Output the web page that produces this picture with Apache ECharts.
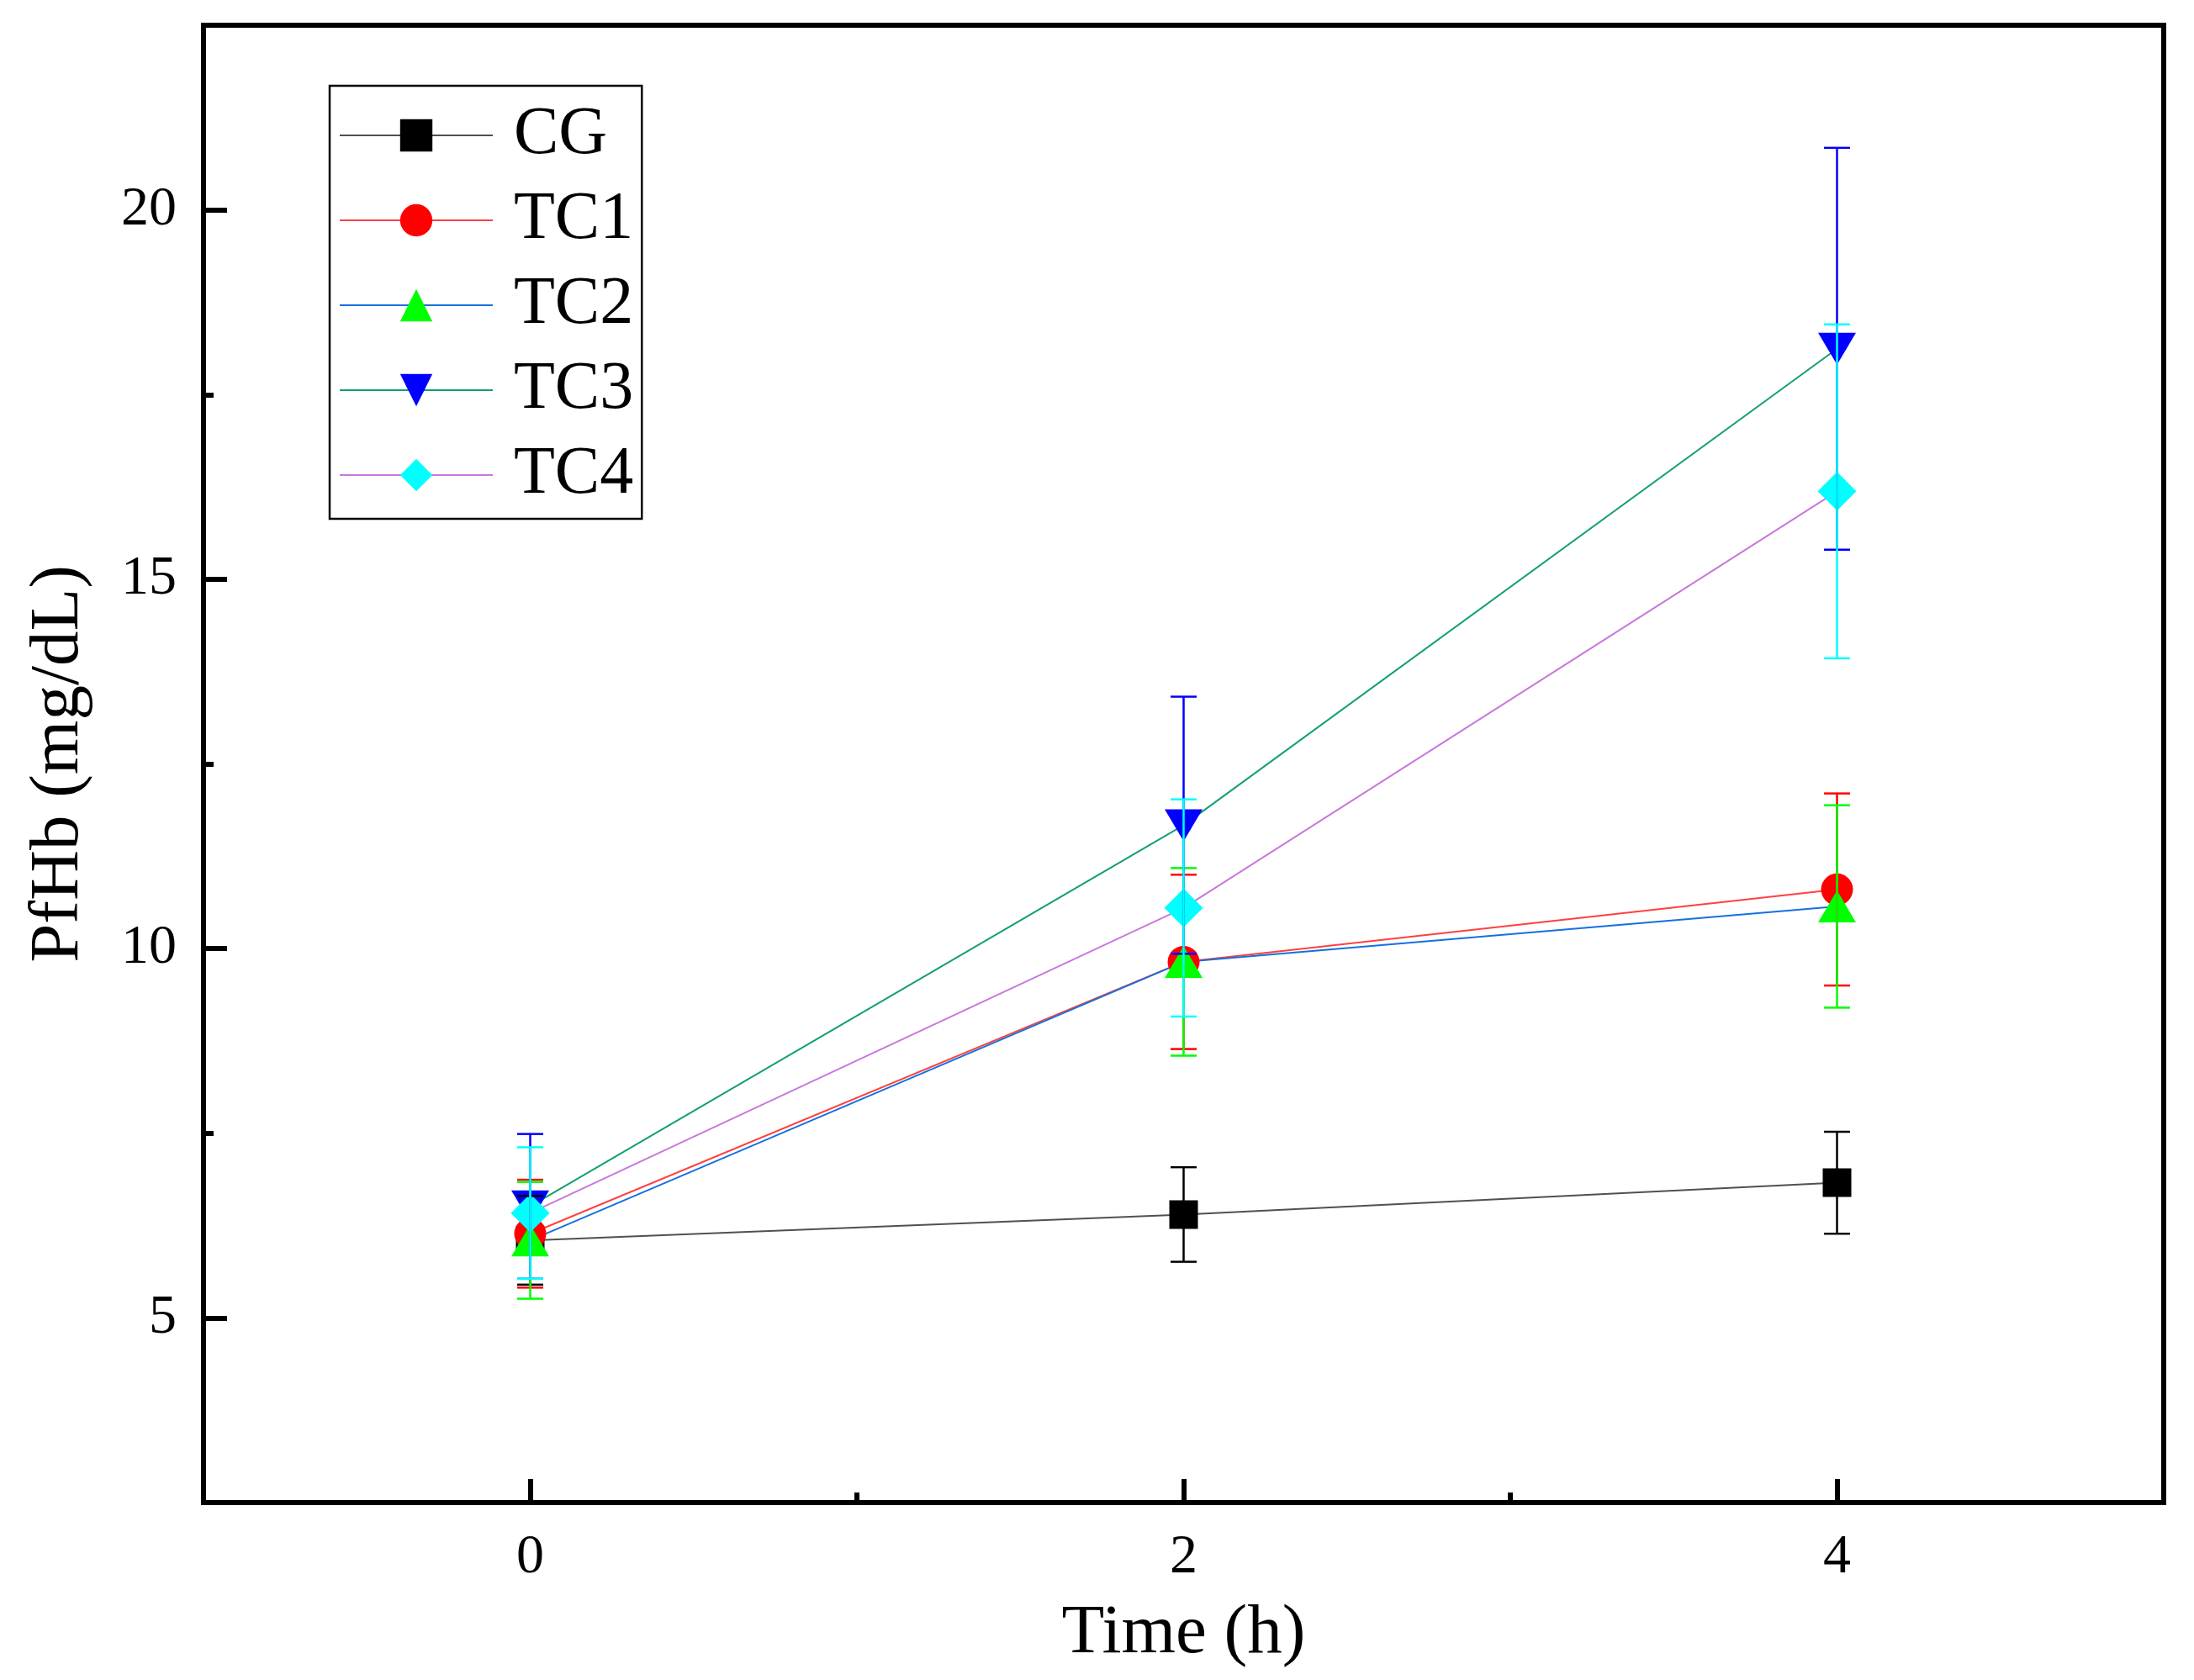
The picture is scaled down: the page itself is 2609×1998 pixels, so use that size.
<!DOCTYPE html>
<html>
<head>
<meta charset="utf-8">
<script src="https://cdn.jsdelivr.net/npm/echarts@6/dist/echarts.min.js"></script>
<style>
html,body{margin:0;padding:0;background:#fff;}
#c{width:2609px;height:1998px;}
</style>
</head>
<body>
<div id="c"></div>
<script>
// ---- data ----
const timePoints = [0, 2, 4];
const seriesNames = ['CG', 'TC1', 'TC2', 'TC3', 'TC4'];
const cgMean  = [6.05, 6.40, 6.83];
const cgSD    = [0.60, 0.64, 0.69];
const tc1Mean = [6.14, 9.82, 10.80];
const tc1SD   = [0.73, 1.18, 1.30];
const tc2Mean = [6.05, 9.82, 10.57];
const tc2SD   = [0.79, 1.27, 1.37];
const tc3Mean = [6.51, 11.67, 18.12];
const tc3SD   = [0.98, 1.74, 2.72];
const tc4Mean = [6.42, 10.55, 16.19];
const tc4SD   = [0.89, 1.47, 2.26];
const xLabelValues = [0, 2, 4];
const xMinorValues = [1, 3];
const yLabelValues = [5, 10, 15, 20];
const yMinorValues = [7.5, 12.5, 17.5];

// ---- styling ----
const means = [cgMean, tc1Mean, tc2Mean, tc3Mean, tc4Mean];
const sds = [cgSD, tc1SD, tc2SD, tc3SD, tc4SD];
const markerColors = ['#000000', '#ff0000', '#00ff00', '#0000ff', '#00ffff'];
const lineColors = ['#505050', '#ff4040', '#1470e0', '#12a070', '#c878dc'];
const symbols = ['rect', 'circle', 'triangle', 'path://M0,0L10,0L5,8.5Z', 'diamond'];
const symbolSizes = [34, 38, [45, 38], [45, 38], [46, 46]];
const FONT = 'Liberation Serif';

const chart = echarts.init(document.getElementById('c'), null, {renderer: 'canvas'});

const lineSeries = seriesNames.map((name, k) => ({
  name: name,
  type: 'line',
  xAxisIndex: 0,
  yAxisIndex: 0,
  data: timePoints.map((t, i) => [t, means[k][i]]),
  symbol: symbols[k],
  symbolSize: symbolSizes[k],
  itemStyle: {color: markerColors[k], borderWidth: 0},
  lineStyle: {color: lineColors[k], width: 2},
  z: 2,
  animation: false
}));

const errSeries = seriesNames.map((name, k) => ({
  name: name + '_err',
  type: 'custom',
  xAxisIndex: 0,
  yAxisIndex: 0,
  silent: true,
  z: 3,
  data: timePoints.map((t, i) => [t, means[k][i], sds[k][i]]),
  encode: {x: 0, y: 1},
  renderItem: function (params, api) {
    const x = api.value(0), m = api.value(1), s = api.value(2);
    const top = api.coord([x, m + s]);
    const bot = api.coord([x, m - s]);
    const hw = 15.5;
    const st = {stroke: markerColors[k], lineWidth: 2.5};
    return {
      type: 'group',
      children: [
        {type: 'line', shape: {x1: top[0], y1: top[1], x2: bot[0], y2: bot[1]}, style: st},
        {type: 'line', shape: {x1: top[0] - hw, y1: top[1], x2: top[0] + hw, y2: top[1]}, style: st},
        {type: 'line', shape: {x1: bot[0] - hw, y1: bot[1], x2: bot[0] + hw, y2: bot[1]}, style: st}
      ]
    };
  },
  animation: false
}));

const option = {
  backgroundColor: '#ffffff',
  animation: false,
  grid: {
    left: 242, right: 36, top: 30, bottom: 211,
    show: true, borderColor: '#000', borderWidth: 6, backgroundColor: 'transparent'
  },
  legend: {
    data: seriesNames,
    orient: 'vertical',
    left: 392, top: 102,
    padding: [19, 10, 12, 11],
    itemWidth: 182, itemHeight: 48, itemGap: 21,
    borderColor: '#000', borderWidth: 2.5,
    backgroundColor: '#fff',
    formatter: n => ' ' + n,
    textStyle: {fontFamily: FONT, fontSize: 80, color: '#000'},
    selectedMode: false
  },
  xAxis: [{
    type: 'value', min: -1, max: 5, interval: 1,
    name: 'Time (h)', nameLocation: 'middle', nameGap: 115,
    nameTextStyle: {fontFamily: FONT, fontSize: 83, color: '#000'},
    axisLine: {show: true, onZero: false, lineStyle: {color: '#000', width: 6}},
    axisTick: {show: true, inside: true, length: 28, customValues: xLabelValues, lineStyle: {color: '#000', width: 6}},
    axisLabel: {show: true, customValues: xLabelValues, margin: 33, fontFamily: FONT, fontSize: 66, color: '#000'},
    splitLine: {show: false}
  }, {
    type: 'value', min: -1, max: 5, interval: 1, position: 'bottom', offset: 0,
    axisLine: {show: false, onZero: false},
    axisTick: {show: true, inside: true, length: 12, customValues: xMinorValues, lineStyle: {color: '#000', width: 6}},
    axisLabel: {show: false},
    splitLine: {show: false}
  }],
  yAxis: [{
    type: 'value', min: 2.5, max: 22.5, interval: 2.5,
    name: 'PfHb (mg/dL)', nameLocation: 'middle', nameGap: 130,
    nameTextStyle: {fontFamily: FONT, fontSize: 83, color: '#000'},
    axisLine: {show: true, onZero: false, lineStyle: {color: '#000', width: 6}},
    axisTick: {show: true, inside: true, length: 28, customValues: yLabelValues, lineStyle: {color: '#000', width: 6}},
    axisLabel: {show: true, customValues: yLabelValues, margin: 32, fontFamily: FONT, fontSize: 66, color: '#000'},
    splitLine: {show: false}
  }, {
    type: 'value', min: 2.5, max: 22.5, interval: 2.5, position: 'left', offset: 0,
    axisLine: {show: false, onZero: false},
    axisTick: {show: true, inside: true, length: 12, customValues: yMinorValues, lineStyle: {color: '#000', width: 6}},
    axisLabel: {show: false},
    splitLine: {show: false}
  }],
  series: lineSeries.concat(errSeries)
};
chart.setOption(option);
</script>
</body>
</html>
